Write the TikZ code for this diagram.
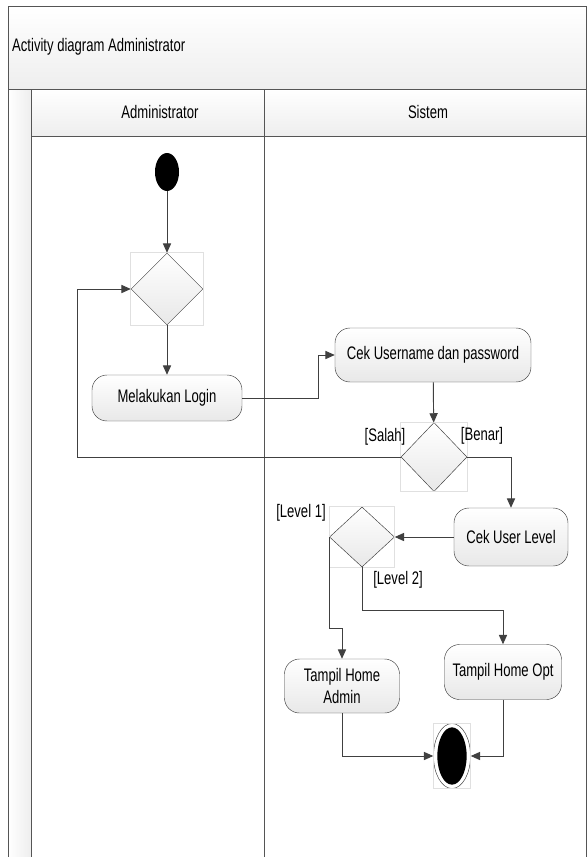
\documentclass[tikz,border=0pt]{standalone}
\usepackage{fontspec}
\newfontfamily\visiofont[FakeStretch=0.72]{Liberation Sans}
\usetikzlibrary{shapes.geometric, arrows.meta}
\definecolor{linegray}{RGB}{64,64,64}
\definecolor{framegray}{RGB}{85,85,85}
\definecolor{nodegray}{RGB}{232,232,232}
\definecolor{bandgray}{RGB}{238,238,238}
\tikzstyle{initial} = [ellipse, fill=black, minimum width=0.72cm, minimum height=1.14cm, inner sep=0]
\tikzstyle{final} = [ellipse, draw=linegray, fill=white, minimum width=1.11cm, minimum height=1.95cm, inner sep=0, path picture={\fill[black] (path picture bounding box.center) ellipse (0.44cm and 0.86cm);}]
\tikzstyle{decision} = [diamond, draw=linegray, top color=white, bottom color=nodegray, inner sep=0]
\tikzstyle{activity} = [rectangle, rounded corners=0.45cm, draw=linegray, top color=white, bottom color=nodegray, align=center]
\tikzstyle{guard} = [inner sep=0]
\tikzstyle{arrow} = [draw=linegray, line width=0.8pt, -{Triangle[length=8pt, width=7pt]}]
\tikzstyle{ghost} = [draw=black!12, line width=0.5pt]
\tikzstyle{frame} = [draw=framegray, line width=0.8pt]

\begin{document}
\begin{tikzpicture}[x=0.03cm, y=-0.03cm, every node/.style={font=\visiofont\fontsize{15.5}{18}\selectfont}]

    \useasboundingbox (0,0) rectangle (587,857);

    % swimlanes
    \path [frame, top color=white, bottom color=bandgray] (8,6) rectangle (586,89);
    \path [frame, top color=white, bottom color=bandgray] (31,89) rectangle (586,136);
    \path [frame, left color=white, right color=bandgray] (8,89) rectangle (31,857);
    \draw [frame] (264,89) -- (264,857);
    \draw [frame] (586,89) -- (586,857);
    \node (title) [anchor=west, inner sep=0] at (12,47) {Activity diagram Administrator};
    \node (lane_admin) at (160,112) {Administrator};
    \node (lane_sistem) at (428,112) {Sistem};

    % nodes
    \node (start) [initial] at (167,172) {};
    \node (merge) [decision, minimum width=2.16cm, minimum height=2.16cm] at (167,289) {};
    \node (login) [activity, minimum width=4.5cm, minimum height=1.38cm] at (167,398) {Melakukan Login};
    \node (cek_login) [activity, minimum width=5.88cm, minimum height=1.62cm] at (433,355) {Cek Username dan password};
    \node (check_login) [decision, minimum width=1.98cm, minimum height=2.07cm] at (434,457) {};
    \node (cek_level) [activity, minimum width=3.42cm, minimum height=1.74cm] at (511,537) {Cek User Level};
    \node (check_level) [decision, minimum width=1.95cm, minimum height=1.8cm] at (362,537) {};
    \node (home_admin) [activity, minimum width=3.45cm, minimum height=1.62cm] at (342,686) {Tampil Home\\Admin};
    \node (home_opt) [activity, minimum width=3.51cm, minimum height=1.65cm] at (503,672) {Tampil Home Opt};
    \node (finish) [final] at (452,756) {};

    \foreach \n in {merge, check_login, check_level, finish}
        \draw [ghost] (\n.west |- \n.north) rectangle (\n.east |- \n.south);

    % guards
    \node (salah) [guard] at (385,437) {[Salah]};
    \node (benar) [guard] at (482,436) {[Benar]};
    \node (level_1) [guard] at (301,513) {[Level 1]};
    \node (level_2) [guard] at (398,580) {[Level 2]};

    % flows
    \draw [arrow] (start) -- (merge);
    \draw [arrow] (merge) -- (login);
    \draw [arrow] (login.east) -- ++(76,0) |- (cek_login.west);
    \draw [arrow] (cek_login) -- (check_login);
    \draw [arrow] (check_login.west) -- ++(-323,0) |- (merge.west);
    \draw [arrow] (check_login.east) -| (cek_level.north);
    \draw [arrow] (cek_level.west) -- (check_level.east);
    \draw [arrow] (check_level.west) -- ++(0,91) -| (home_admin.north);
    \draw [arrow] (check_level.south) -- ++(0,43) -| (home_opt.north);
    \draw [arrow] (home_admin.south) |- (finish.west);
    \draw [arrow] (home_opt.south) |- (finish.east);

\end{tikzpicture}
\end{document}
